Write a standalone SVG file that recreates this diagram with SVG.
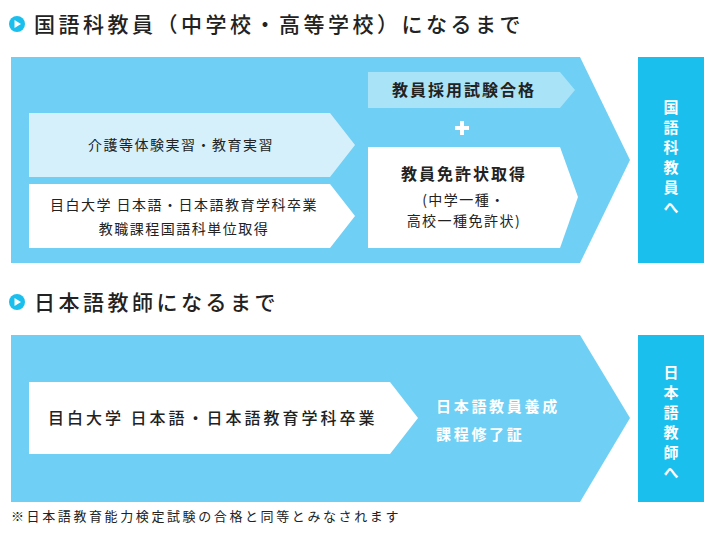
<svg xmlns="http://www.w3.org/2000/svg" width="712" height="533" viewBox="0 0 712 533">
<style>
text{font-family:"Noto Sans CJK JP","Noto Sans",sans-serif;fill:#222}
.h{font-size:21px;font-weight:500;letter-spacing:3.5px}
.m{font-size:14px;text-anchor:middle;letter-spacing:1.5px}
.b{font-size:16px;font-weight:700;text-anchor:middle;letter-spacing:2px}
.v{font-size:15px;font-weight:700;fill:#fff;text-anchor:middle}
.big{fill:#6fcff4}.side{fill:#1bbfee}
</style>
<rect width="712" height="533" fill="#fff"/>
<g id="header1"><circle cx="17" cy="24" r="8" fill="#1bbfee"/><path d="M14.5 20 L21 24 L14.5 28Z" fill="#fff"/><text class="h" x="34" y="32">国語科教員（中学校・高等学校）になるまで</text></g>
<g id="flow1"><path class="big" d="M11 57 H580 L630 160 L580 263 H11Z"/></g>
<g id="exam"><path fill="#a9e3f8" d="M368 72 H560 L575 90 L560 108 H368Z"/><text class="b" x="464" y="96">教員採用試験合格</text></g>
<g id="plus"><path d="M455 128 H469 M462 121 V135" stroke="#fff" stroke-width="4"/></g>
<g id="license"><path fill="#fff" d="M368 147 H560 L578 197 L560 248 H368Z"/><text class="b" x="464" y="180">教員免許状取得</text><text class="m" x="464" y="205">(中学一種・</text><text class="m" x="464" y="226">高校一種免許状)</text></g>
<g id="intern"><path fill="#d5f0fb" d="M29 113 H330 L355 145 L330 177 H29Z"/><text class="m" x="181" y="150">介護等体験実習・教育実習</text></g>
<g id="univ1"><path fill="#fff" d="M29 184 H330 L355 216 L330 248 H29Z"/><text class="m" x="184" y="210">目白大学 日本語・日本語教育学科卒業</text><text class="m" x="184" y="234">教職課程国語科単位取得</text></g>
<g id="goal1"><rect class="side" x="638" y="57" width="66" height="206"/><text class="v"><tspan x="671" y="113">国</tspan><tspan x="671" y="133">語</tspan><tspan x="671" y="153">科</tspan><tspan x="671" y="173">教</tspan><tspan x="671" y="193">員</tspan><tspan x="671" y="213">へ</tspan></text></g>
<g id="header2"><circle cx="17" cy="302" r="8" fill="#1bbfee"/><path d="M14.5 298 L21 302 L14.5 306Z" fill="#fff"/><text class="h" x="34" y="310">日本語教師になるまで</text></g>
<g id="flow2"><path class="big" d="M11 335 H580 L630 418 L580 502 H11Z"/></g>
<g id="univ2"><path fill="#fff" d="M29 382 H390 L418 418 L390 454 H29Z"/><text x="48" y="424" style="font-size:16px;font-weight:500;letter-spacing:3px">目白大学 日本語・日本語教育学科卒業</text></g>
<g id="cert"><text x="436" y="412" style="font-size:15px;font-weight:700;fill:#fff;letter-spacing:2.7px">日本語教員養成</text><text x="436" y="440" style="font-size:15px;font-weight:700;fill:#fff;letter-spacing:2.7px">課程修了証</text></g>
<g id="goal2"><rect class="side" x="638" y="335" width="66" height="167"/><text class="v"><tspan x="671" y="378">日</tspan><tspan x="671" y="398">本</tspan><tspan x="671" y="418">語</tspan><tspan x="671" y="438">教</tspan><tspan x="671" y="458">師</tspan><tspan x="671" y="478">へ</tspan></text></g>
<g id="connectors"/>
<text x="11" y="521" style="font-size:13px;letter-spacing:2.6px">※日本語教育能力検定試験の合格と同等とみなされます</text>
</svg>
